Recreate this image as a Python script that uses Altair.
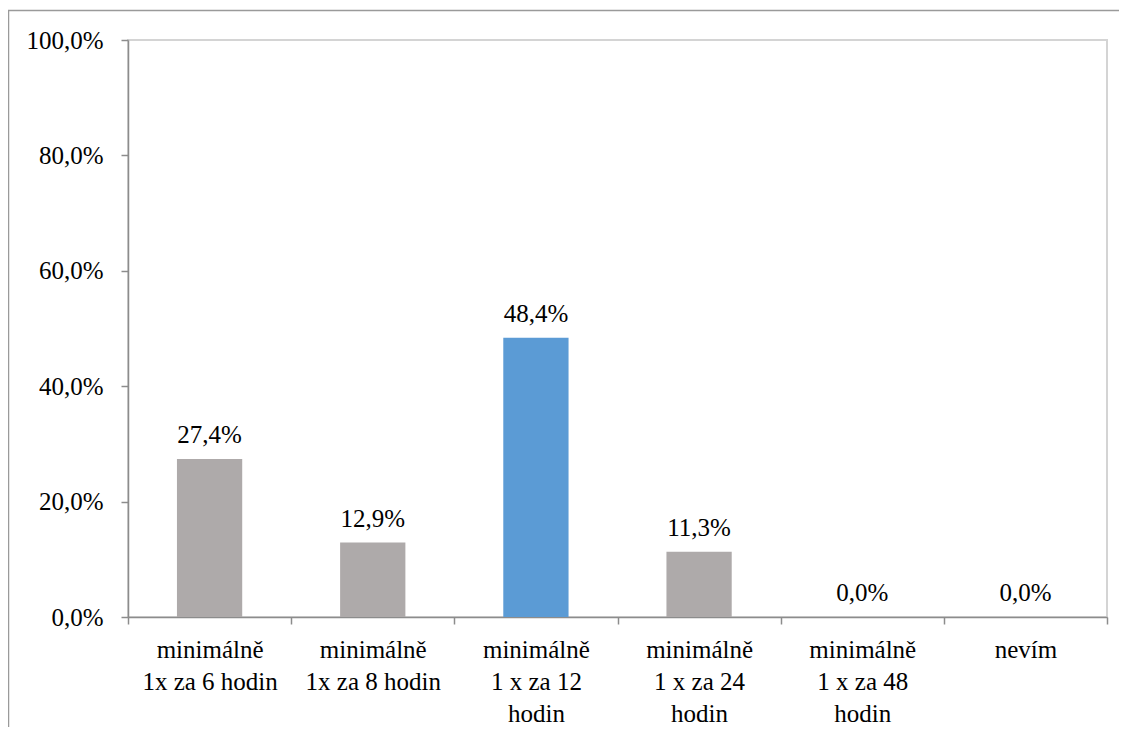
import altair as alt
import pandas as pd

categories = [
    "minimálně\n1x za 6 hodin",
    "minimálně\n1x za 8 hodin",
    "minimálně\n1 x za 12\nhodin",
    "minimálně\n1 x za 24\nhodin",
    "minimálně\n1 x za 48\nhodin",
    "nevím",
]
values = [0.274, 0.129, 0.484, 0.113, 0.0, 0.0]
bar_colors = ["#AEAAAA", "#AEAAAA", "#5B9BD5", "#AEAAAA", "#AEAAAA", "#AEAAAA"]
y_ticks = [0.0, 0.2, 0.4, 0.6, 0.8, 1.0]

FONT = "Liberation Serif"
W, H = 979, 577

df = pd.DataFrame({"cat": categories, "value": values})

x_enc = alt.X(
    "cat:N",
    sort=categories,
    scale=alt.Scale(paddingInner=0, paddingOuter=0),
    axis=alt.Axis(
        title=None,
        labelAngle=0,
        labelExpr="isValid(datum.value) ? split(datum.value, '\\n') : ''",
        labelFont=FONT,
        labelFontSize=25,
        labelColor="#000000",
        labelLineHeight=32,
        labelBaseline="top",
        labelPadding=13,
        labelLimit=0,
        tickBand="extent",
        tickSize=7,
        tickColor="#8c8c8c",
        tickWidth=1.5,
        domainColor="#8c8c8c",
        domainWidth=1.5,
        grid=False,
    ),
)

y_enc = alt.Y(
    "value:Q",
    scale=alt.Scale(domain=[0, 1], nice=False),
    axis=alt.Axis(
        title=None,
        values=y_ticks,
        labelExpr="replace(format(datum.value, '.1%'), '.', ',')",
        labelFont=FONT,
        labelFontSize=25,
        labelColor="#000000",
        labelPadding=18,
        tickSize=7,
        tickColor="#8c8c8c",
        tickWidth=1.5,
        domainColor="#8c8c8c",
        domainWidth=1.5,
        grid=False,
    ),
)

bars = alt.Chart(df).mark_bar(width=alt.RelativeBandSize(0.4)).encode(
    x=x_enc,
    y=y_enc,
    color=alt.Color("cat:N", scale=alt.Scale(domain=categories, range=bar_colors), legend=None),
)

texts = alt.Chart(df).transform_calculate(
    label="replace(format(datum.value, '.1%'), '.', ',')"
).mark_text(
    dy=-16, baseline="alphabetic", fontSize=25, font=FONT, color="#000000"
).encode(
    x=alt.X("cat:N", sort=categories),
    y=alt.Y("value:Q"),
    text="label:N",
)

one = pd.DataFrame({"a": [0]})
frame_top = alt.Chart(one).mark_rule(color="#9a9a9a", strokeWidth=1.5).encode(
    x=alt.value(-120), x2=alt.value(W + 12), y=alt.value(-29.5)
)
frame_left = alt.Chart(one).mark_rule(color="#9a9a9a", strokeWidth=1.5).encode(
    x=alt.value(-119.5), y=alt.value(-29.5), y2=alt.value(H + 110)
)

chart = alt.layer(frame_top, frame_left, bars, texts).properties(
    width=W,
    height=H,
    autosize=alt.AutoSizeParams(type="none"),
    padding={"left": 120, "top": 32, "right": 12, "bottom": 110},
).configure_view(
    stroke="#d4d4d4", strokeWidth=2
)

chart.save("out.html", embed_options={"renderer": "svg", "actions": False})
